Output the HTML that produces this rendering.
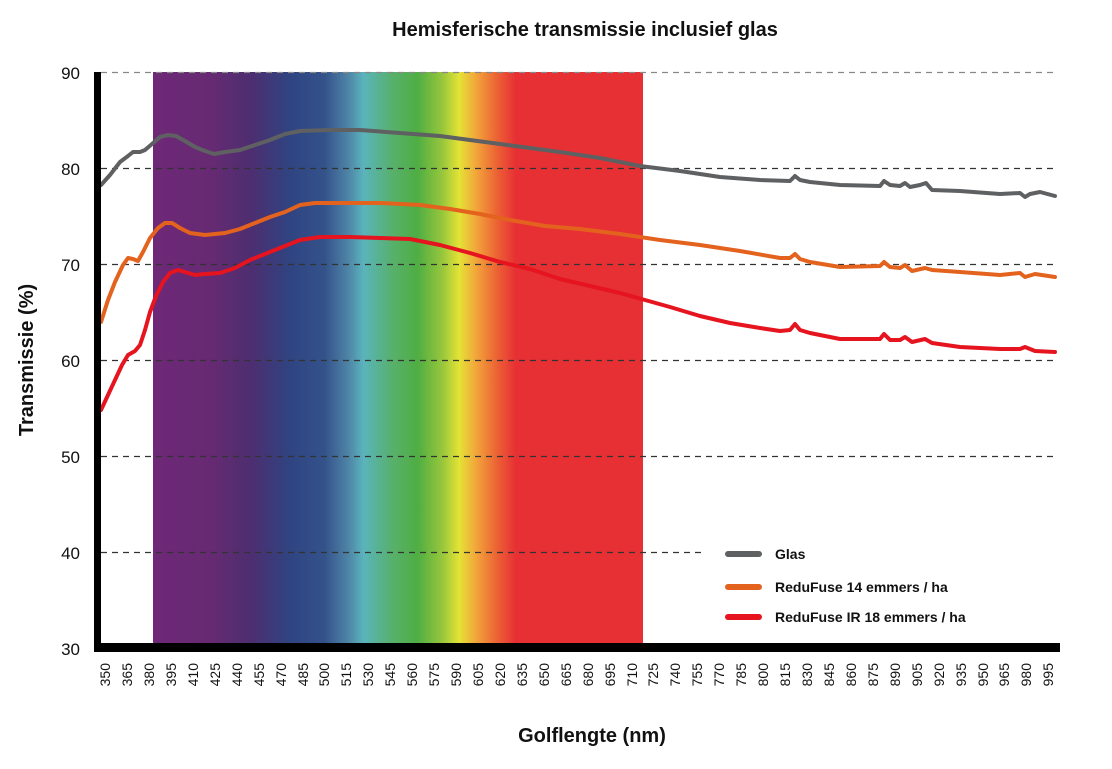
<!DOCTYPE html>
<html><head><meta charset="utf-8"><style>
body{margin:0;background:#fff}
svg{display:block;font-family:"Liberation Sans",sans-serif}
</style></head><body>
<svg width="1112" height="769" viewBox="0 0 1112 769">
<defs>
<linearGradient id="sp" x1="0" x2="1" y1="0" y2="0">
<stop offset="0" stop-color="#6e2877"/>
<stop offset="0.12" stop-color="#662a72"/>
<stop offset="0.2" stop-color="#4d2e70"/>
<stop offset="0.28" stop-color="#2f4482"/>
<stop offset="0.35" stop-color="#34528a"/>
<stop offset="0.40" stop-color="#4f86a8"/>
<stop offset="0.43" stop-color="#5ab4bb"/>
<stop offset="0.49" stop-color="#57b06a"/>
<stop offset="0.54" stop-color="#4fae43"/>
<stop offset="0.59" stop-color="#96c63c"/>
<stop offset="0.625" stop-color="#e4e335"/>
<stop offset="0.66" stop-color="#f2a43b"/>
<stop offset="0.70" stop-color="#ec6534"/>
<stop offset="0.74" stop-color="#e73034"/>
<stop offset="1" stop-color="#e73034"/>
</linearGradient>
</defs>
<text x="585" y="36" text-anchor="middle" font-size="20" font-weight="bold" fill="#111">Hemisferische transmissie inclusief glas</text>
<rect x="153" y="72" width="490" height="573" fill="url(#sp)"/>
<g stroke="#333" stroke-width="1.2" stroke-dasharray="6,5">
<line x1="101" y1="72.5" x2="1055" y2="72.5" stroke="#888"/>
<line x1="101" y1="168.5" x2="1055" y2="168.5"/>
<line x1="101" y1="264.5" x2="1055" y2="264.5"/>
<line x1="101" y1="360.5" x2="1055" y2="360.5"/>
<line x1="101" y1="456.5" x2="1055" y2="456.5"/>
<line x1="101" y1="552.5" x2="705" y2="552.5"/>
</g>
<g fill="none" stroke-width="4" stroke-linejoin="round" stroke-linecap="round">
<path stroke="#5f6062" d="M101,185 L110,175 L120,162 L128,156 L133,152 L140,152 L145,150 L152,144 L160,137 L168,135 L176,136 L185,141 L195,147 L205,151 L214,154 L225,152 L240,150 L255,145 L270,140 L285,134 L300,131 L330,130 L360,130 L400,133 L440,136 L470,140 L500,144 L530,148 L560,152 L600,158 L640,166 L680,171 L720,177 L760,180 L790,181 L795,176 L800,180 L810,182 L840,185 L880,186 L884,181 L890,185 L900,186 L905,183 L910,187 L920,185 L926,183 L932,190 L960,191 L1000,194 L1020,193 L1025,197 L1030,194 L1040,192 L1055,196"/>
<path stroke="#e3621e" d="M101,322 L108,300 L115,282 L123,265 L128,258 L133,259 L138,261 L143,252 L150,238 L158,228 L165,223 L172,223 L180,228 L190,233 L205,235 L225,233 L240,229 L255,223 L270,217 L285,212 L300,205 L315,203 L340,203 L360,203 L380,203 L420,205 L450,209 L480,214 L510,220 L545,226 L580,229 L620,234 L660,240 L700,245 L740,251 L780,258 L790,258 L795,254 L800,259 L810,262 L840,267 L880,266 L884,262 L890,267 L900,268 L905,265 L912,271 L925,268 L932,270 L960,272 L1000,275 L1020,273 L1025,277 L1035,274 L1055,277"/>
<path stroke="#e5141f" d="M101,410 L108,395 L115,380 L122,365 L128,355 L135,351 L140,345 L145,330 L150,312 L156,296 L163,282 L170,273 L178,270 L185,272 L195,275 L205,274 L220,273 L235,268 L250,260 L265,254 L280,248 L300,240 L320,237 L350,237 L380,238 L410,239 L440,245 L470,253 L500,262 L530,269 L560,279 L590,286 L620,293 L645,300 L670,307 L700,316 L730,323 L760,328 L780,331 L790,330 L795,324 L800,330 L810,333 L840,339 L880,339 L884,334 L890,340 L900,340 L905,337 L912,342 L925,339 L932,343 L960,347 L1000,349 L1020,349 L1025,347 L1035,351 L1055,352"/>
</g>
<rect x="94" y="72" width="7" height="578" fill="#000"/>
<rect x="94" y="643" width="966" height="9" fill="#000"/>
<g font-size="17" fill="#111" text-anchor="end">
<text x="80" y="79">90</text><text x="80" y="175">80</text><text x="80" y="271">70</text>
<text x="80" y="367">60</text><text x="80" y="463">50</text><text x="80" y="559">40</text><text x="80" y="655">30</text>
</g>
<text transform="translate(33,360) rotate(-90)" text-anchor="middle" font-size="20" font-weight="bold" fill="#111">Transmissie (%)</text>
<text x="592" y="742" text-anchor="middle" font-size="20" font-weight="bold" fill="#111">Golflengte (nm)</text>
<g stroke-width="6" stroke-linecap="round">
<line x1="728" y1="554" x2="759" y2="554" stroke="#5f6062"/>
<line x1="728" y1="587" x2="759" y2="587" stroke="#e3621e"/>
<line x1="728" y1="617" x2="759" y2="617" stroke="#e5141f"/>
</g>
<g font-size="14" font-weight="bold" fill="#111">
<text x="775" y="559">Glas</text>
<text x="775" y="592">ReduFuse 14 emmers / ha</text>
<text x="775" y="622">ReduFuse IR 18 emmers / ha</text>
</g>
<g font-size="14" fill="#111" text-anchor="end">
<text transform="translate(110,663) rotate(-90)">350</text>
<text transform="translate(132,663) rotate(-90)">365</text>
<text transform="translate(154,663) rotate(-90)">380</text>
<text transform="translate(176,663) rotate(-90)">395</text>
<text transform="translate(198,663) rotate(-90)">410</text>
<text transform="translate(220,663) rotate(-90)">425</text>
<text transform="translate(242,663) rotate(-90)">440</text>
<text transform="translate(264,663) rotate(-90)">455</text>
<text transform="translate(286,663) rotate(-90)">470</text>
<text transform="translate(308,663) rotate(-90)">485</text>
<text transform="translate(329,663) rotate(-90)">500</text>
<text transform="translate(351,663) rotate(-90)">515</text>
<text transform="translate(373,663) rotate(-90)">530</text>
<text transform="translate(395,663) rotate(-90)">545</text>
<text transform="translate(417,663) rotate(-90)">560</text>
<text transform="translate(439,663) rotate(-90)">575</text>
<text transform="translate(461,663) rotate(-90)">590</text>
<text transform="translate(483,663) rotate(-90)">605</text>
<text transform="translate(505,663) rotate(-90)">620</text>
<text transform="translate(527,663) rotate(-90)">635</text>
<text transform="translate(549,663) rotate(-90)">650</text>
<text transform="translate(571,663) rotate(-90)">665</text>
<text transform="translate(593,663) rotate(-90)">680</text>
<text transform="translate(615,663) rotate(-90)">695</text>
<text transform="translate(637,663) rotate(-90)">710</text>
<text transform="translate(658,663) rotate(-90)">725</text>
<text transform="translate(680,663) rotate(-90)">740</text>
<text transform="translate(702,663) rotate(-90)">755</text>
<text transform="translate(724,663) rotate(-90)">770</text>
<text transform="translate(746,663) rotate(-90)">785</text>
<text transform="translate(768,663) rotate(-90)">800</text>
<text transform="translate(790,663) rotate(-90)">815</text>
<text transform="translate(812,663) rotate(-90)">830</text>
<text transform="translate(834,663) rotate(-90)">845</text>
<text transform="translate(856,663) rotate(-90)">860</text>
<text transform="translate(878,663) rotate(-90)">875</text>
<text transform="translate(900,663) rotate(-90)">890</text>
<text transform="translate(922,663) rotate(-90)">905</text>
<text transform="translate(944,663) rotate(-90)">920</text>
<text transform="translate(966,663) rotate(-90)">935</text>
<text transform="translate(988,663) rotate(-90)">950</text>
<text transform="translate(1009,663) rotate(-90)">965</text>
<text transform="translate(1031,663) rotate(-90)">980</text>
<text transform="translate(1053,663) rotate(-90)">995</text>
</g>
</svg>
</body></html>
